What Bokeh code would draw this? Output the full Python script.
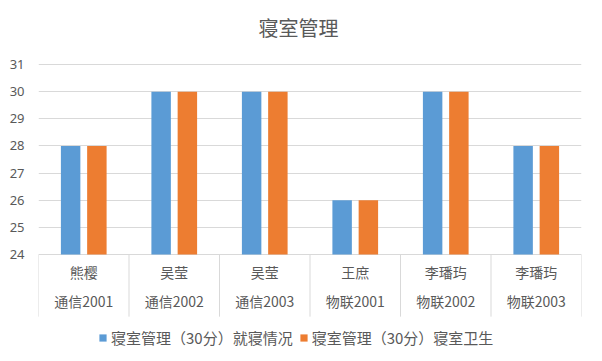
from bokeh.plotting import figure
from bokeh.models import ColumnDataSource, FixedTicker, Range1d, Legend, LegendItem
from bokeh.core.properties import value
from bokeh.embed import file_html
from bokeh.resources import INLINE

# ---- data ----
names = ["熊樱", "吴莹", "吴莹", "王庶", "李璠玙", "李璠玙"]
classes = ["通信2001", "通信2002", "通信2003", "物联2001", "物联2002", "物联2003"]
sleep_scores = [28, 30, 30, 26, 30, 28]
hygiene_scores = [28, 30, 30, 26, 30, 28]
series_names = ["寝室管理（30分）就寝情况", "寝室管理（30分）寝室卫生"]
y_ticks = [24, 25, 26, 27, 28, 29, 30, 31]
title_text = "寝室管理"

CJK = "Noto Sans CJK SC"
GRAY = "#595959"
GRID = "#d9d9d9"
BLUE = "#5B9BD5"
ORANGE = "#ED7D31"

n = len(names)
xs = list(range(n))
base = y_ticks[0]

p = figure(width=586, height=349, output_backend="svg", toolbar_location=None,
           x_range=Range1d(-0.5, n - 0.5), y_range=Range1d(20.499, 33.10),
           min_border_left=38, min_border_right=5, min_border_top=7, min_border_bottom=0)
p.outline_line_color = None
p.background_fill_color = "white"
p.border_fill_color = "white"

src = ColumnDataSource(dict(
    x1=[x - 0.145 for x in xs], x2=[x + 0.145 for x in xs],
    s=sleep_scores, h=hygiene_scores, b=[base] * n,
))
r1 = p.vbar(x="x1", top="s", bottom="b", width=0.215, source=src, fill_color=BLUE, line_color=None)
r2 = p.vbar(x="x2", top="h", bottom="b", width=0.215, source=src, fill_color=ORANGE, line_color=None)

# y axis
p.yaxis.ticker = FixedTicker(ticks=y_ticks)
p.yaxis.axis_line_color = None
p.yaxis.major_tick_line_color = None
p.yaxis.minor_tick_line_color = None
p.yaxis.major_label_text_font = "Noto Sans"
p.yaxis.major_label_text_font_size = "13px"
p.yaxis.major_label_text_color = GRAY
p.yaxis.major_label_standoff = 8
p.ygrid.ticker = FixedTicker(ticks=y_ticks)
p.ygrid.grid_line_color = GRID
p.xgrid.grid_line_color = None
p.xaxis.visible = False

# category separators
seps = [i - 0.5 for i in range(n + 1)]
p.segment(x0=seps, x1=seps, y0=[base] * len(seps), y1=[21.71] * len(seps),
          line_color=GRID, line_width=1)

# category labels (two lines)
p.text(x=xs, y=[23.34] * n, text=names, text_align="center", text_baseline="middle",
       text_font=value(CJK), text_font_size="14px", text_color=GRAY)
p.text(x=xs, y=[22.27] * n, text=classes, text_align="center", text_baseline="middle",
       text_font=value(CJK), text_font_size="14px", text_color=GRAY)

# title
p.text(x=[2.373], y=[32.36], text=[title_text], text_align="center", text_baseline="middle",
       text_font=value(CJK), text_font_size="20px", text_color=GRAY)

legend = Legend(items=[LegendItem(label=series_names[0], renderers=[r1]),
                       LegendItem(label=series_names[1], renderers=[r2])],
                orientation="horizontal", location=(60, 1),
                label_text_font=CJK, label_text_font_size="15px", label_text_color=GRAY,
                glyph_width=9, glyph_height=9, label_standoff=4, spacing=6,
                padding=0, margin=0, border_line_color=None, background_fill_alpha=0)
p.add_layout(legend)

open("out.html", "w").write(file_html(p, INLINE))
